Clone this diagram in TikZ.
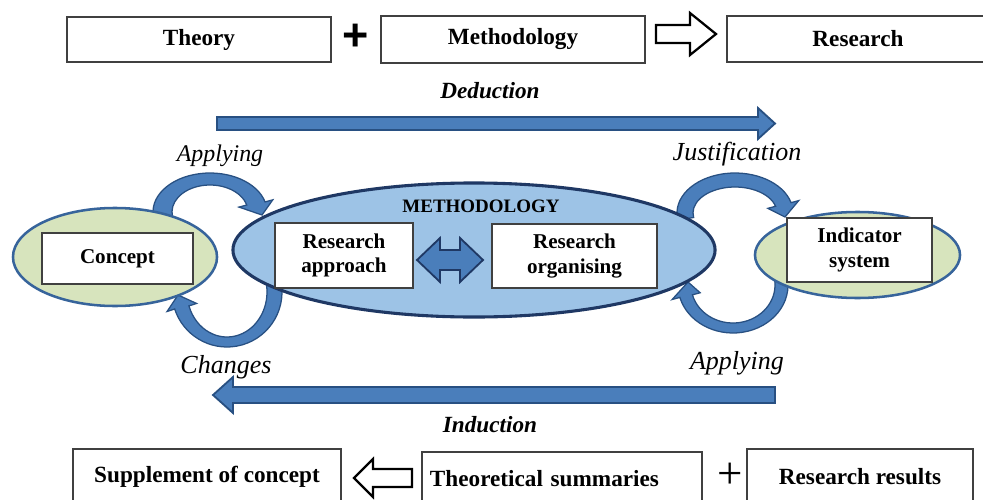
\documentclass[tikz,border=0pt]{standalone}
\usepackage{fontspec}
\setmainfont{Liberation Serif}
\setsansfont{Liberation Sans}
\usepackage{tikz}
\usetikzlibrary{shapes, calc, backgrounds}
\definecolor{boxline}{RGB}{64, 64, 64}
\definecolor{arrblue}{RGB}{74, 126, 187}
\definecolor{arredge}{RGB}{40, 80, 130}
\definecolor{methfill}{RGB}{157, 195, 230}
\definecolor{methedge}{RGB}{31, 56, 100}
\definecolor{concfill}{RGB}{215, 228, 189}
\definecolor{concedge}{RGB}{55, 100, 155}
\tikzset{
    box/.style={draw=boxline, fill=white, line width=0.9pt, inner sep=0pt, align=center, font=\fontsize{16.5}{19}\selectfont\bfseries},
    inbox/.style={box, font=\fontsize{15}{17.5}\selectfont\bfseries},
    concell/.style={ellipse, draw=concedge, fill=concfill, line width=1.8pt, inner sep=0pt},
    methell/.style={ellipse, draw=methedge, fill=methfill, line width=2.2pt, inner sep=0pt},
    lab/.style={font=\fontsize{18.5}{20}\selectfont\itshape},
    boldlab/.style={font=\fontsize{16.5}{19}\selectfont\bfseries\itshape},
    plusA/.style={font=\fontsize{32}{32}\selectfont\sffamily\bfseries},
    plusB/.style={font=\fontsize{32}{32}\selectfont},
    bigarrow/.style={fill=arrblue, draw=arredge, line width=1.3pt},
    hollow/.style={draw=black, fill=white, line width=1.6pt},
    bent/.style={fill=arrblue, draw=arredge, line width=0.9pt},
}
% #1 centre, #2 and #3 angles, #4 #5 outer radii, #6 #7 inner radii, #8 tip
\newcommand{\bentarrow}[8]{%
    \filldraw [bent] (#1) ++(#2:#4 and #5) arc [start angle=#2, end angle=#3, x radius=#4, y radius=#5]
        -- ($(#1)+(#3:#4+8 and #5+8)$) -- (#8) -- ($(#1)+(#3:#6-8 and #7-8)$)
        -- ($(#1)+(#3:#6 and #7)$) arc [start angle=#3, end angle=#2, x radius=#6, y radius=#7] -- cycle;}

\begin{document}
\begin{tikzpicture}[x=0.025cm, y=-0.025cm]
    \useasboundingbox (0,0) rectangle (983,499);

    % top row
    \node [box, minimum width=6.6cm, minimum height=1.125cm] (theory) at (199,39.5) {Theory};
    \node [box, minimum width=6.6cm, minimum height=1.175cm] (method) at (513,39.5) {Methodology};
    \node [box, minimum width=6.55cm, minimum height=1.15cm] (research) at (858,39) {Research};
    \node [plusA] (plus1) at (356,37.5) {+};
    \draw [hollow] (656,25) -- (690,25) -- (690,13) -- (716,34) -- (690,55) -- (690,43) -- (656,43) -- cycle;

    \node [boldlab] (ded) at (490,91) {Deduction};
    \draw [bigarrow] (217,117) -- (758,117) -- (758,108) -- (775,123.5) -- (758,139) -- (758,130) -- (217,130) -- cycle;

    % middle
    \node [lab, font=\fontsize{17}{19}\selectfont\itshape] (applyL) at (220,156) {Applying};
    \node [lab] (justif) at (737,154) {Justification};

    \node [concell, minimum width=5.1cm, minimum height=2.45cm] (concE) at (115,257) {};
    \node [inbox, minimum width=3.775cm, minimum height=1.275cm] (concept) at (117.5,258.5) {Concept};

    \node [methell, minimum width=12.05cm, minimum height=3.35cm] (methE) at (474,250) {};
    \node [font=\fontsize{13.5}{15}\selectfont\bfseries] (methLab) at (481,206) {METHODOLOGY};
    \node [inbox, minimum width=3.45cm, minimum height=1.625cm] (approach) at (344,255.5) {Research\\approach};
    \node [inbox, minimum width=4.125cm, minimum height=1.6cm] (organ) at (574.5,256) {Research\\organising};
    \draw [bigarrow, draw=methedge] (417,260) -- (440,238) -- (440,250) -- (460,250) -- (460,238) -- (483,260)
        -- (460,282) -- (460,270) -- (440,270) -- (440,282) -- cycle;

    \node [concell, minimum width=5.125cm, minimum height=2.15cm] (indE) at (857.5,255) {};
    \node [inbox, minimum width=3.625cm, minimum height=1.6cm] (indic) at (859.5,250) {Indicator\\system};

    \begin{pgfonlayer}{background}
        \coordinate (bendA) at (210,212);
        \coordinate (bendB) at (227,292);
        \coordinate (bendC) at (735,213);
        \coordinate (bendD) at (733,285);
        \coordinate (tipA) at (262,215);
        \coordinate (tipB) at (178,295);
        \coordinate (tipC) at (785,217);
        \coordinate (tipD) at (688,282);
        \bentarrow{bendA}{170}{345}{57}{39}{38}{27}{tipA}
        \bentarrow{bendB}{-10}{162}{55}{55}{40}{45}{tipB}
        \bentarrow{bendC}{170}{345}{58}{40}{42}{26}{tipC}
        \bentarrow{bendD}{-10}{165}{55}{48}{42}{38}{tipD}
    \end{pgfonlayer}

    \node [lab] (changes) at (226,367) {Changes};
    \node [lab] (applyR) at (737,363) {Applying};

    % induction
    \draw [bigarrow] (775,387) -- (233,387) -- (233,377) -- (213,395) -- (233,413) -- (233,403) -- (775,403) -- cycle;
    \node [boldlab] (ind) at (490,425) {Induction};

    % bottom row
    \node [box, minimum width=6.7cm, minimum height=1.4cm] (suppl) at (207,477) {Supplement of concept};
    \draw [hollow] (412,469) -- (373,469) -- (373,459) -- (354,478) -- (373,497) -- (373,487) -- (412,487) -- cycle;
    \node [box, text width=6.6cm, align=left, inner xsep=0.2cm, minimum height=1.35cm] (summ) at (562,479) {Theoretical summaries};
    \node [plusB] (plus2) at (730,476) {+};
    \node [box, minimum width=5.65cm, minimum height=1.4cm] (results) at (860,477) {Research results};
\end{tikzpicture}
\end{document}
